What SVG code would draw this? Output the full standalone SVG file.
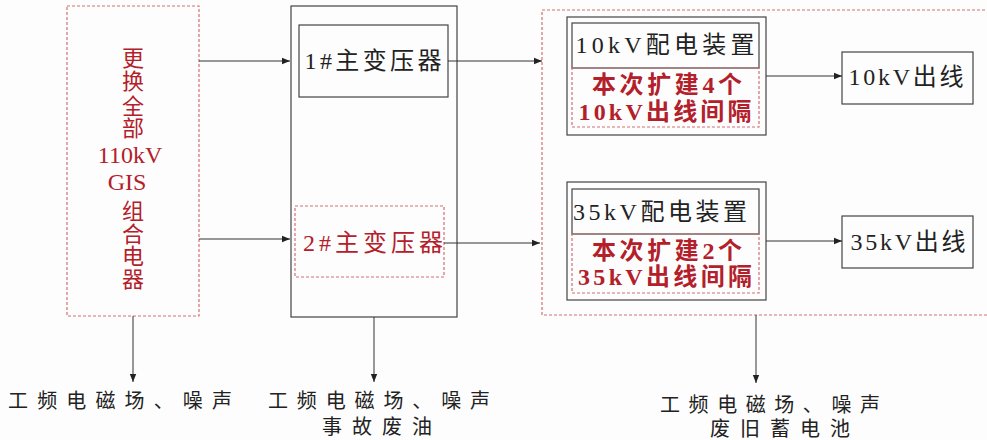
<svg xmlns="http://www.w3.org/2000/svg" width="987" height="440" viewBox="0 0 987 440">
<defs>
<marker id="arr" viewBox="0 0 10 10" refX="10" refY="5" markerWidth="8" markerHeight="8" markerUnits="userSpaceOnUse" orient="auto">
<path d="M0,1 L10,5 L0,9 z" fill="#222"/>
</marker>
<style>
.box{fill:none;stroke:#444;stroke-width:1.2}
.dash{fill:none;stroke:#d27070;stroke-width:1.2;stroke-dasharray:3,2}
.t{font-family:"Liberation Serif","Noto Sans CJK SC",serif;font-size:24px;fill:#222;text-anchor:middle;dominant-baseline:central}
.v{font-size:22px}
.r{fill:#b3202a}
.b{font-weight:bold}
.bt{font-family:"Noto Sans CJK SC",sans-serif;font-size:20px;fill:#222;dominant-baseline:central}
.c{fill:none;stroke:#333;stroke-width:1;marker-end:url(#arr)}
</style>
</defs>
<rect width="987" height="440" fill="#fdfdfd"/>
<g id="n-gis">
<rect class="dash" x="67" y="6" width="132" height="310"/>
<text class="t v r"><tspan x="133" y="58">更</tspan><tspan x="133" y="81">换</tspan><tspan x="133" y="106">全</tspan><tspan x="133" y="128">部</tspan><tspan x="130" y="155" font-size="24">110kV</tspan><tspan x="127" y="182" font-size="24">GIS</tspan><tspan x="133" y="211">组</tspan><tspan x="133" y="234">合</tspan><tspan x="133" y="256">电</tspan><tspan x="133" y="279">器</tspan></text>
</g>
<g id="n-main">
<rect class="box" x="291" y="6" width="166" height="311"/>
</g>
<g id="n-t1">
<rect class="box" x="299" y="25" width="149" height="72"/>
<text class="t" x="373" y="61" textLength="137" lengthAdjust="spacing">1#主变压器</text>
</g>
<g id="n-t2">
<rect class="dash" x="295" y="206" width="149" height="71"/>
<text class="t r" x="373" y="243" textLength="140" lengthAdjust="spacing">2#主变压器</text>
</g>
<g id="n-right">
<rect class="dash" x="542" y="10" width="460" height="305"/>
</g>
<g id="n-10kv">
<rect class="box" x="567" y="17" width="199" height="118"/>
<rect class="box" x="572" y="23" width="187" height="45"/>
<rect class="dash" x="572" y="68" width="187" height="59"/>
<text class="t" x="665" y="45" textLength="179" lengthAdjust="spacing">10kV配电装置</text>
<text class="t r b" x="667" y="85" textLength="150" lengthAdjust="spacing">本次扩建4个</text>
<text class="t r b" x="665" y="112" textLength="173" lengthAdjust="spacing">10kV出线间隔</text>
</g>
<g id="n-35kv">
<rect class="box" x="567" y="182" width="199" height="118"/>
<rect class="box" x="572" y="189" width="187" height="45"/>
<rect class="dash" x="572" y="234" width="187" height="59"/>
<text class="t" x="660" y="212" textLength="174" lengthAdjust="spacing">35kV配电装置</text>
<text class="t r b" x="667" y="251" textLength="150" lengthAdjust="spacing">本次扩建2个</text>
<text class="t r b" x="665" y="277" textLength="174" lengthAdjust="spacing">35kV出线间隔</text>
</g>
<g id="n-out10">
<rect class="box" x="842" y="52" width="131" height="52"/>
<text class="t" x="906" y="77" textLength="115" lengthAdjust="spacing">10kV出线</text>
</g>
<g id="n-out35">
<rect class="box" x="842" y="216" width="131" height="52"/>
<text class="t" x="908" y="242" textLength="115" lengthAdjust="spacing">35kV出线</text>
</g>
<g id="n-e1">
<text class="bt" x="8" y="399" textLength="224" lengthAdjust="spacing">工频电磁场、噪声</text>
</g>
<g id="n-e2">
<text class="bt"><tspan x="268" y="399" textLength="222" lengthAdjust="spacing">工频电磁场、噪声</tspan><tspan x="322" y="425" textLength="110" lengthAdjust="spacing">事故废油</tspan></text>
</g>
<g id="n-e3">
<text class="bt"><tspan x="660" y="403" textLength="220" lengthAdjust="spacing">工频电磁场、噪声</tspan><tspan x="710" y="427" textLength="140" lengthAdjust="spacing">废旧蓄电池</tspan></text>
</g>
<g id="connectors">
<line class="c" x1="199" y1="61" x2="290" y2="61"/>
<line class="c" x1="199" y1="239" x2="290" y2="239"/>
<line class="c" x1="448" y1="61" x2="542" y2="61"/>
<line class="c" x1="444" y1="243" x2="540" y2="243"/>
<line class="c" x1="766" y1="76" x2="842" y2="76"/>
<line class="c" x1="766" y1="241" x2="842" y2="241"/>
<line class="c" x1="133" y1="316" x2="133" y2="382"/>
<line class="c" x1="374" y1="317" x2="374" y2="382"/>
<line class="c" x1="756" y1="315" x2="756" y2="383"/>
</g>
</svg>
